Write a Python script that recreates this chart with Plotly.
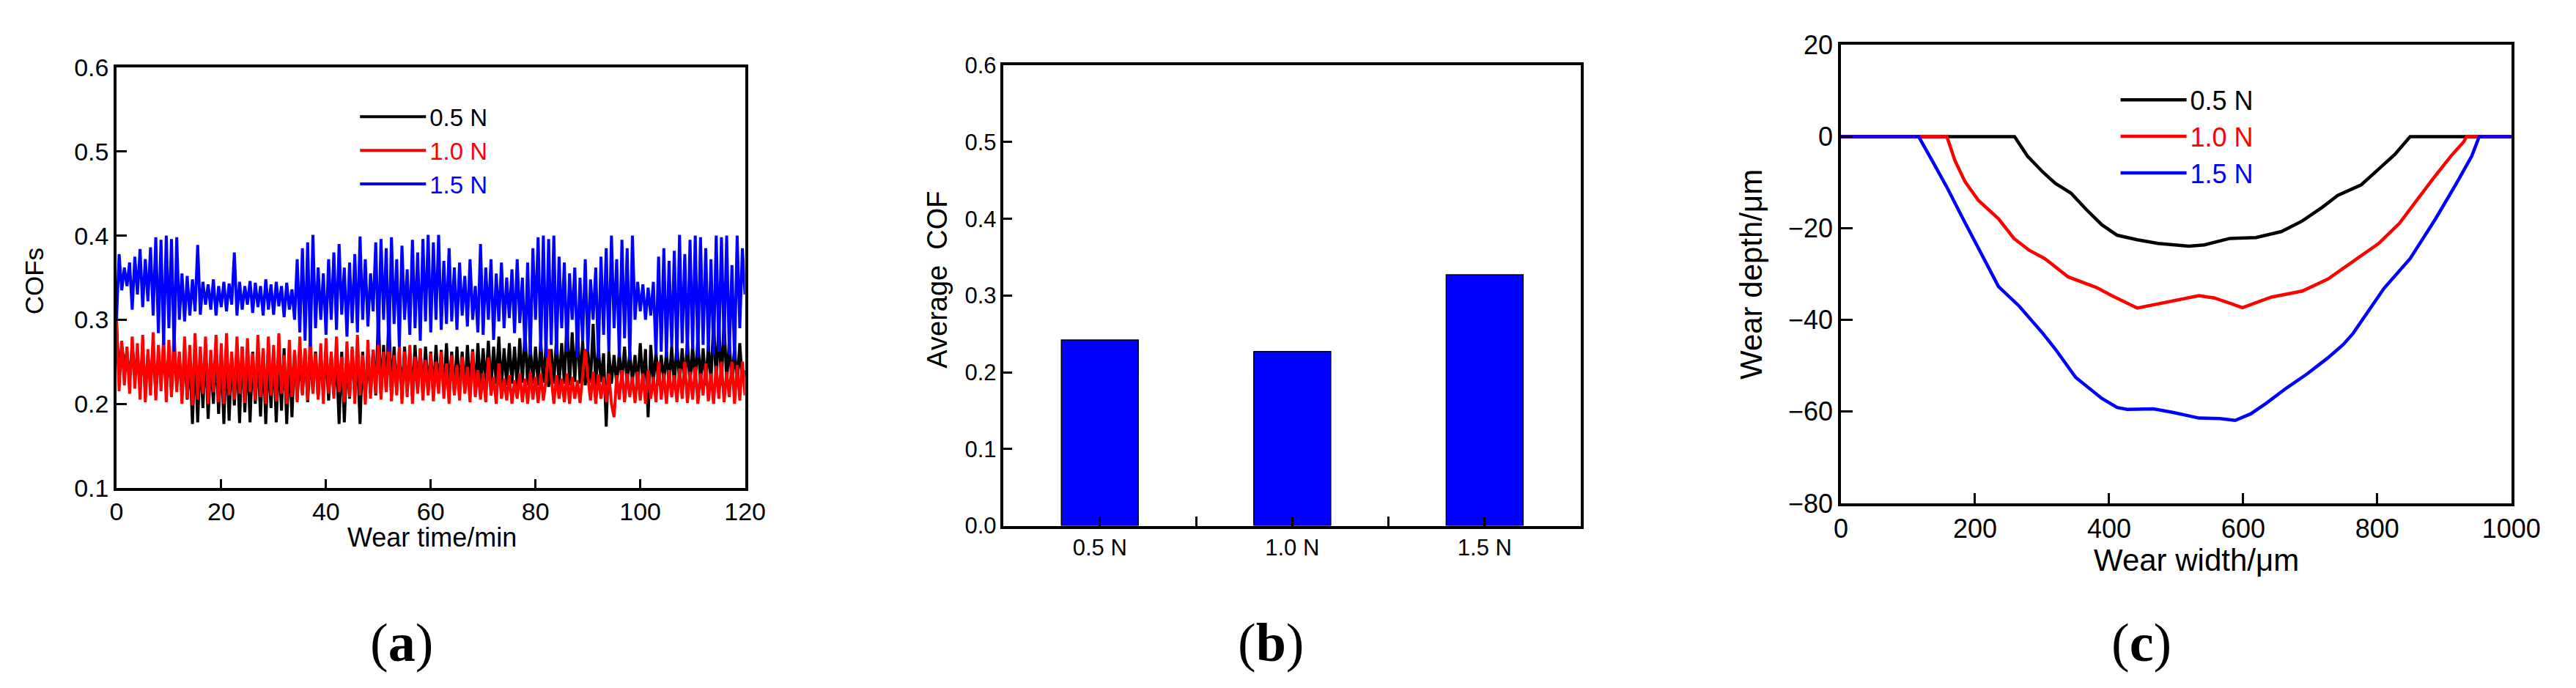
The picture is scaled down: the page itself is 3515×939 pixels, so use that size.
import plotly.graph_objects as go

# ---------------- Panel (a): COF vs wear time ----------------
loads = ["0.5 N", "1.0 N", "1.5 N"]
colors = ["#000000", "#ff0000", "#0000ff"]

time_step_min = 0.5
cof_05N = [
    0.295, 0.232, 0.270, 0.245, 0.262, 0.228, 0.268, 0.240, 0.255, 0.222,
    0.262, 0.215, 0.258, 0.225, 0.266, 0.212, 0.255, 0.230, 0.262, 0.218,
    0.258, 0.214, 0.265, 0.222, 0.256, 0.210, 0.262, 0.205, 0.255, 0.176,
    0.262, 0.178, 0.258, 0.195, 0.265, 0.182, 0.255, 0.200, 0.262, 0.188,
    0.258, 0.176, 0.266, 0.180, 0.255, 0.198, 0.262, 0.177, 0.268, 0.190,
    0.256, 0.178, 0.262, 0.200, 0.258, 0.185, 0.265, 0.176, 0.256, 0.195,
    0.262, 0.178, 0.255, 0.192, 0.266, 0.176, 0.258, 0.184, 0.262, 0.205,
    0.255, 0.212, 0.264, 0.202, 0.258, 0.215, 0.262, 0.208, 0.256, 0.212,
    0.262, 0.204, 0.258, 0.210, 0.255, 0.176, 0.262, 0.178, 0.258, 0.206,
    0.264, 0.210, 0.256, 0.176, 0.262, 0.205, 0.258, 0.212, 0.264, 0.210,
    0.305, 0.212, 0.270, 0.215, 0.305, 0.210, 0.268, 0.215, 0.262, 0.212,
    0.268, 0.214, 0.262, 0.210, 0.270, 0.216, 0.265, 0.212, 0.268, 0.215,
    0.262, 0.212, 0.270, 0.218, 0.264, 0.214, 0.272, 0.216, 0.262, 0.212,
    0.268, 0.218, 0.262, 0.214, 0.270, 0.220, 0.265, 0.216, 0.272, 0.220,
    0.266, 0.222, 0.275, 0.218, 0.268, 0.224, 0.280, 0.220, 0.266, 0.222,
    0.272, 0.224, 0.268, 0.220, 0.278, 0.225, 0.286, 0.222, 0.270, 0.224,
    0.268, 0.222, 0.275, 0.225, 0.270, 0.220, 0.265, 0.224, 0.278, 0.222,
    0.272, 0.224, 0.300, 0.222, 0.285, 0.226, 0.292, 0.224, 0.275, 0.222,
    0.262, 0.225, 0.295, 0.222, 0.268, 0.226, 0.260, 0.173, 0.262, 0.224,
    0.258, 0.222, 0.262, 0.226, 0.268, 0.224, 0.262, 0.225, 0.258, 0.222,
    0.272, 0.224, 0.265, 0.184, 0.270, 0.225, 0.262, 0.222, 0.258, 0.226,
    0.262, 0.224, 0.268, 0.222, 0.272, 0.225, 0.266, 0.224, 0.275, 0.222,
    0.270, 0.225, 0.278, 0.224, 0.266, 0.222, 0.270, 0.225, 0.300, 0.224,
    0.298, 0.222, 0.300, 0.225, 0.275, 0.224, 0.268, 0.222, 0.272, 0.225,
    0.240,
]
cof_10N = [
    0.300, 0.215, 0.275, 0.222, 0.268, 0.212, 0.280, 0.218, 0.272, 0.205,
    0.282, 0.202, 0.265, 0.210, 0.285, 0.204, 0.270, 0.215, 0.280, 0.202,
    0.276, 0.208, 0.285, 0.214, 0.262, 0.200, 0.280, 0.206, 0.270, 0.198,
    0.284, 0.205, 0.268, 0.212, 0.280, 0.200, 0.264, 0.214, 0.282, 0.202,
    0.272, 0.200, 0.284, 0.210, 0.262, 0.205, 0.280, 0.212, 0.268, 0.201,
    0.278, 0.214, 0.260, 0.204, 0.282, 0.208, 0.266, 0.200, 0.280, 0.210,
    0.270, 0.203, 0.284, 0.212, 0.258, 0.200, 0.276, 0.208, 0.264, 0.202,
    0.280, 0.210, 0.266, 0.204, 0.284, 0.212, 0.260, 0.205, 0.272, 0.200,
    0.278, 0.212, 0.262, 0.206, 0.280, 0.214, 0.256, 0.202, 0.274, 0.208,
    0.268, 0.200, 0.282, 0.210, 0.258, 0.199, 0.276, 0.206, 0.264, 0.212,
    0.272, 0.205, 0.262, 0.214, 0.270, 0.203, 0.258, 0.210, 0.268, 0.200,
    0.262, 0.208, 0.270, 0.200, 0.256, 0.212, 0.266, 0.204, 0.252, 0.210,
    0.260, 0.203, 0.250, 0.212, 0.262, 0.206, 0.248, 0.200, 0.258, 0.210,
    0.246, 0.204, 0.256, 0.212, 0.244, 0.202, 0.262, 0.208, 0.240, 0.205,
    0.236, 0.202, 0.255, 0.210, 0.232, 0.200, 0.248, 0.206, 0.230, 0.204,
    0.234, 0.200, 0.228, 0.206, 0.236, 0.202, 0.230, 0.200, 0.238, 0.205,
    0.232, 0.201, 0.236, 0.204, 0.228, 0.265, 0.232, 0.200, 0.234, 0.206,
    0.230, 0.202, 0.236, 0.200, 0.232, 0.206, 0.228, 0.201, 0.234, 0.265,
    0.232, 0.204, 0.238, 0.200, 0.235, 0.206, 0.232, 0.202, 0.236, 0.200,
    0.184, 0.234, 0.205, 0.240, 0.202, 0.236, 0.208, 0.232, 0.201, 0.238,
    0.204, 0.236, 0.200, 0.240, 0.206, 0.232, 0.202, 0.250, 0.205, 0.236,
    0.200, 0.240, 0.208, 0.234, 0.202, 0.242, 0.206, 0.250, 0.201, 0.238,
    0.205, 0.244, 0.200, 0.236, 0.210, 0.248, 0.203, 0.236, 0.200, 0.245,
    0.206, 0.250, 0.202, 0.238, 0.208, 0.250, 0.200, 0.246, 0.204, 0.250,
    0.210,
]
cof_15N = [
    0.300, 0.378, 0.335, 0.362, 0.340, 0.368, 0.312, 0.375, 0.330, 0.384,
    0.315, 0.372, 0.322, 0.386, 0.305, 0.398, 0.284, 0.395, 0.270, 0.400,
    0.290, 0.396, 0.262, 0.398, 0.300, 0.355, 0.298, 0.352, 0.305, 0.348,
    0.310, 0.389, 0.306, 0.345, 0.318, 0.342, 0.312, 0.348, 0.305, 0.340,
    0.315, 0.345, 0.310, 0.343, 0.318, 0.380, 0.305, 0.345, 0.312, 0.340,
    0.318, 0.346, 0.308, 0.344, 0.315, 0.340, 0.305, 0.348, 0.312, 0.342,
    0.306, 0.345, 0.316, 0.340, 0.303, 0.344, 0.312, 0.336, 0.300, 0.372,
    0.285, 0.385, 0.275, 0.392, 0.268, 0.401, 0.290, 0.362, 0.300, 0.355,
    0.282, 0.372, 0.300, 0.380, 0.288, 0.390, 0.306, 0.362, 0.280, 0.368,
    0.296, 0.378, 0.285, 0.399, 0.300, 0.372, 0.292, 0.355, 0.310, 0.392,
    0.270, 0.396, 0.300, 0.385, 0.262, 0.398, 0.295, 0.372, 0.268, 0.388,
    0.300, 0.360, 0.282, 0.395, 0.290, 0.380, 0.275, 0.396, 0.298, 0.401,
    0.285, 0.392, 0.300, 0.401, 0.288, 0.370, 0.295, 0.385, 0.298, 0.362,
    0.288, 0.368, 0.305, 0.352, 0.292, 0.372, 0.300, 0.340, 0.285, 0.390,
    0.282, 0.362, 0.300, 0.372, 0.276, 0.355, 0.298, 0.368, 0.290, 0.350,
    0.302, 0.360, 0.284, 0.372, 0.296, 0.350, 0.262, 0.368, 0.258, 0.385,
    0.300, 0.398, 0.262, 0.400, 0.255, 0.396, 0.270, 0.400, 0.258, 0.375,
    0.290, 0.368, 0.262, 0.355, 0.300, 0.362, 0.255, 0.350, 0.275, 0.372,
    0.262, 0.348, 0.300, 0.362, 0.254, 0.375, 0.282, 0.385, 0.262, 0.400,
    0.290, 0.372, 0.255, 0.395, 0.278, 0.385, 0.252, 0.400, 0.300, 0.345,
    0.310, 0.342, 0.300, 0.338, 0.305, 0.345, 0.258, 0.375, 0.262, 0.385,
    0.255, 0.370, 0.268, 0.382, 0.252, 0.401, 0.272, 0.378, 0.258, 0.395,
    0.265, 0.400, 0.255, 0.398, 0.270, 0.385, 0.262, 0.372, 0.258, 0.400,
    0.262, 0.398, 0.270, 0.400, 0.258, 0.365, 0.252, 0.400, 0.290, 0.385,
    0.330,
]
cof_series = [cof_05N, cof_10N, cof_15N]

# ---------------- Panel (b): average COF ----------------
avg_cof = [0.242, 0.227, 0.327]

# ---------------- Panel (c): wear profiles ----------------
width_05N = [0, 259, 278, 301, 320, 343, 366, 389, 412, 442, 473, 519, 542, 580, 619,
             657, 688, 718, 741, 776, 795, 826, 849, 1000]
depth_05N = [0, 0, -4.2, -7.7, -10.2, -12.3, -15.9, -19.2, -21.5, -22.5, -23.3, -23.9,
             -23.6, -22.2, -22.0, -20.7, -18.4, -15.4, -12.8, -10.5, -8.0, -3.9, 0, 0]
width_10N = [0, 158, 170, 185, 205, 235, 258, 281, 304, 339, 381, 404, 442, 488, 534,
             557, 599, 642, 688, 726, 764, 802, 833, 856, 883, 910, 929, 933, 1000]
depth_10N = [0, 0, -5.2, -9.8, -13.9, -17.9, -22.2, -24.8, -26.6, -30.6, -32.9, -34.7,
             -37.4, -36.0, -34.7, -35.2, -37.3, -35.0, -33.7, -31.1, -27.1, -23.3,
             -18.9, -14.4, -9.2, -4.2, -1.1, 0, 0]
width_15N = [0, 116, 136, 159, 182, 205, 235, 266, 301, 320, 350, 389, 412, 427, 466,
             496, 534, 565, 588, 611, 634, 665, 695, 726, 749, 764, 810, 849, 887,
             918, 941, 952, 1000]
depth_15N = [0, 0, -5.2, -11.3, -17.9, -24.3, -32.7, -37.0, -42.9, -46.4, -52.5,
             -57.1, -59.1, -59.5, -59.4, -60.2, -61.4, -61.5, -61.9, -60.5, -58.2,
             -54.8, -51.8, -48.3, -45.4, -42.9, -33.1, -26.6, -17.9, -10.2, -4.2, 0, 0]
widths = [width_05N, width_10N, width_15N]
depths = [depth_05N, depth_10N, depth_15N]

W, H = 3515, 939
SANS = "Liberation Sans, Arial, sans-serif"
SERIF = "Liberation Serif, Times New Roman, serif"

fig = go.Figure()

# panel (a) traces
for name, col, vals in zip(loads, colors, cof_series):
    t = [i * time_step_min for i in range(len(vals))]
    fig.add_trace(go.Scatter(
        x=t, y=vals, mode="lines", line=dict(color=col, width=4),
        name=f"<span style='color:{col}'>{name}</span>",
        xaxis="x", yaxis="y", legend="legend"))

# panel (b) bars
fig.add_trace(go.Bar(
    x=list(range(len(loads))), y=avg_cof, width=0.4,
    marker=dict(color="#0000ff", line=dict(color="#000000", width=1.5)),
    showlegend=False, xaxis="x2", yaxis="y2"))

# panel (c) traces
for name, col, xs, ys in zip(loads, colors, widths, depths):
    fig.add_trace(go.Scatter(
        x=xs, y=ys, mode="lines", line=dict(color=col, width=4.5),
        name=f"<span style='color:{col}'>{name}</span>",
        xaxis="x3", yaxis="y3", legend="legend2"))


def px_x(p):
    return p / W


def px_y(p):
    return 1 - p / H


def axis(domain, rng, dtick, ticklen, size, anchor, **kw):
    d = dict(domain=domain, range=rng, dtick=dtick, tick0=rng[0] if dtick else None,
             showline=True, linecolor="black", linewidth=3.5, mirror=True,
             ticks="inside", ticklen=ticklen, tickwidth=3, tickcolor="black",
             showgrid=False, zeroline=False, anchor=anchor,
             tickfont=dict(family=SANS, size=size, color="black"))
    d.update(kw)
    return d


fig.update_layout(
    width=W, height=H, margin=dict(l=0, r=0, t=0, b=0),
    paper_bgcolor="white", plot_bgcolor="white",
    xaxis=axis([px_x(143), px_x(1013)], [0, 120], 20, 12, 34, "y"),
    yaxis=axis([px_y(667), px_y(67)], [0.1, 0.6], 0.1, 14, 34, "x", tickformat=".1f"),
    xaxis2=axis([px_x(1371), px_x(2170)], [-0.5, 2.5], None, 13, 31, "y2",
                tickmode="array", tickvals=[0, 1, 2], ticktext=loads,
                minor=dict(tickmode="array", tickvals=[0.5, 1.5], ticks="inside",
                           ticklen=13, tickwidth=3, tickcolor="black")),
    yaxis2=axis([px_y(721), px_y(64)], [0, 0.6], 0.1, 12, 31, "x2", tickformat=".1f"),
    xaxis3=axis([px_x(2530), px_x(3458)], [0, 1000], 200, 14, 36, "y3"),
    yaxis3=axis([px_y(689), px_y(35)], [-80, 20], 20, 16, 36, "x3"),
    legend=dict(x=px_x(475), y=px_y(108), xanchor="left", yanchor="top",
                bgcolor="rgba(0,0,0,0)", itemwidth=90,
                font=dict(family=SANS, size=33, color="black")),
    legend2=dict(x=px_x(2912), y=px_y(82), xanchor="left", yanchor="top",
                 bgcolor="rgba(0,0,0,0)", itemwidth=90,
                 font=dict(family=SANS, size=36, color="black")),
    showlegend=True,
)

ann = [
    dict(text="COFs", x=px_x(29), y=px_y(372), textangle=-90, size=35, fam=SANS),
    dict(text="Wear time/min", x=px_x(580), y=px_y(738), textangle=0, size=36, fam=SANS),
    dict(text="Average\u00a0 COF", x=px_x(1279), y=px_y(370), textangle=-90, size=38, fam=SANS),
    dict(text="Wear depth/\u03bcm", x=px_x(2405), y=px_y(362), textangle=-90, size=42, fam=SANS),
    dict(text="Wear width/\u03bcm", x=px_x(3022), y=px_y(770), textangle=0, size=42, fam=SANS),
    dict(text="(<b>a</b>)", x=px_x(538), y=px_y(888), textangle=0, size=74, fam=SERIF),
    dict(text="(<b>b</b>)", x=px_x(1741), y=px_y(888), textangle=0, size=74, fam=SERIF),
    dict(text="(<b>c</b>)", x=px_x(2946), y=px_y(888), textangle=0, size=74, fam=SERIF),
]
for a in ann:
    fig.add_annotation(text=a["text"], x=a["x"], y=a["y"], xref="paper", yref="paper",
                       xanchor="center", yanchor="middle", showarrow=False,
                       textangle=a["textangle"],
                       font=dict(family=a["fam"], size=a["size"], color="black"))

fig.write_html("out.html")
